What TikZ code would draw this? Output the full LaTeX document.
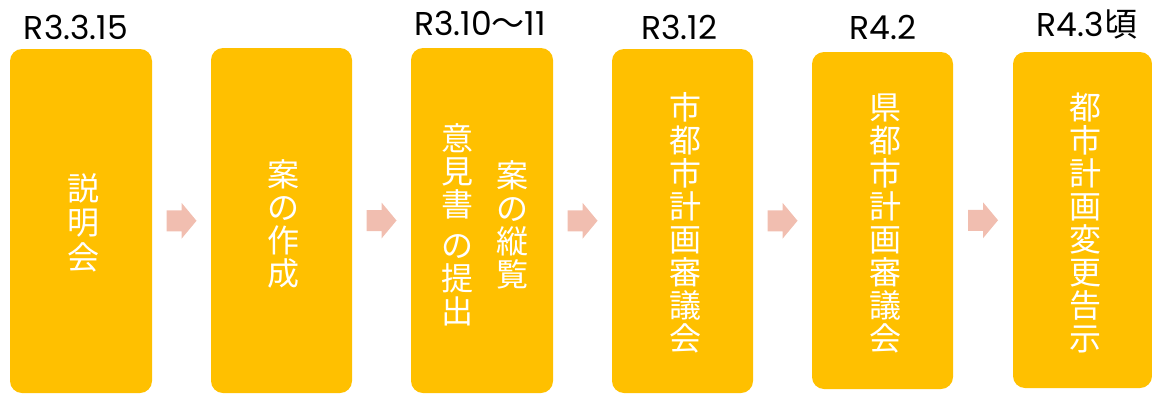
\documentclass[tikz,border=0pt]{standalone}
\usepackage{fontspec}
\setmainfont{Poppins}
\newfontfamily\cjk{Noto Sans CJK JP}
\usetikzlibrary{calc}
\definecolor{boxc}{RGB}{255,192,0}
\definecolor{arrc}{RGB}{241,190,176}
\tikzset{
 stepbox/.style={fill=boxc, rounded corners=12pt, inner sep=0pt},
 tatetext/.style={text=white, inner sep=0pt, align=center, font=\cjk\fontsize{32}{33}\selectfont},
 datelbl/.style={anchor=base, inner sep=0pt, text=black, font=\fontsize{33}{33}\selectfont},
 blockarrow/.style={fill=arrc}
}
\newcommand\blockarr[2]{%
 \fill[blockarrow] ($(#1.east)!0.5!(#2.west)$) ++(-15,-10.5) -- ++(15,0) -- ++(0,-7.5)
   -- ++(15,18) -- ++(-15,18) -- ++(0,-7.5) -- ++(-15,0) -- cycle;}
\begin{document}
\begin{tikzpicture}[x=1pt,y=-1pt]
\useasboundingbox (0,0) rectangle (1152,394);
% boxes
\node[stepbox, minimum width=142pt, minimum height=344pt] (b1) at (81,221) {};
\node[stepbox, minimum width=141pt, minimum height=345pt] (b2) at (281.5,220.5) {};
\node[stepbox, minimum width=142pt, minimum height=345pt] (b3) at (482,220.5) {};
\node[stepbox, minimum width=141pt, minimum height=344pt] (b4) at (682.5,221) {};
\node[stepbox, minimum width=141pt, minimum height=337pt] (b5) at (882.5,220.5) {};
\node[stepbox, minimum width=139pt, minimum height=336pt] (b6) at (1082.5,220) {};
% texts
\node[tatetext, font=\cjk\fontsize{32}{34.5}\selectfont] (t1) at ($(b1.center)+(2,1.5)$) {説\\明\\会};
\node[tatetext] (t2) at ($(b2.center)+(2,3)$) {案\\の\\作\\成};
\node[tatetext] (t3a) at ($(b3.center)+(30,4.5)$) {案\\の\\縦\\覧};
\node[tatetext] (t3b) at ($(b3.center)+(-25,4.5)$) {意\\見\\書\\[8pt]の\\提\\出};
\node[tatetext] (t4) at ($(b4.center)+(2.5,2)$) {市\\都\\市\\計\\画\\審\\議\\会};
\node[tatetext] (t5) at ($(b5.center)+(2.5,3)$) {県\\都\\市\\計\\画\\審\\議\\会};
\node[tatetext] (t6) at ($(b6.center)+(2.5,3)$) {都\\市\\計\\画\\変\\更\\告\\示};
% dates
\node[datelbl] (d1) at (76,39) {R3.3.15};
\node[datelbl] (d3) at (480,35) {R3.10{\cjk ～}11};
\node[datelbl] (d4) at (679,39) {R3.12};
\node[datelbl] (d5) at (883,39) {R4.2};
\node[datelbl] (d6) at (1087,36) {R4.3{\cjk 頃}};
% arrows
\blockarr{b1}{b2}
\blockarr{b2}{b3}
\blockarr{b3}{b4}
\blockarr{b4}{b5}
\blockarr{b5}{b6}
\end{tikzpicture}
\end{document}
